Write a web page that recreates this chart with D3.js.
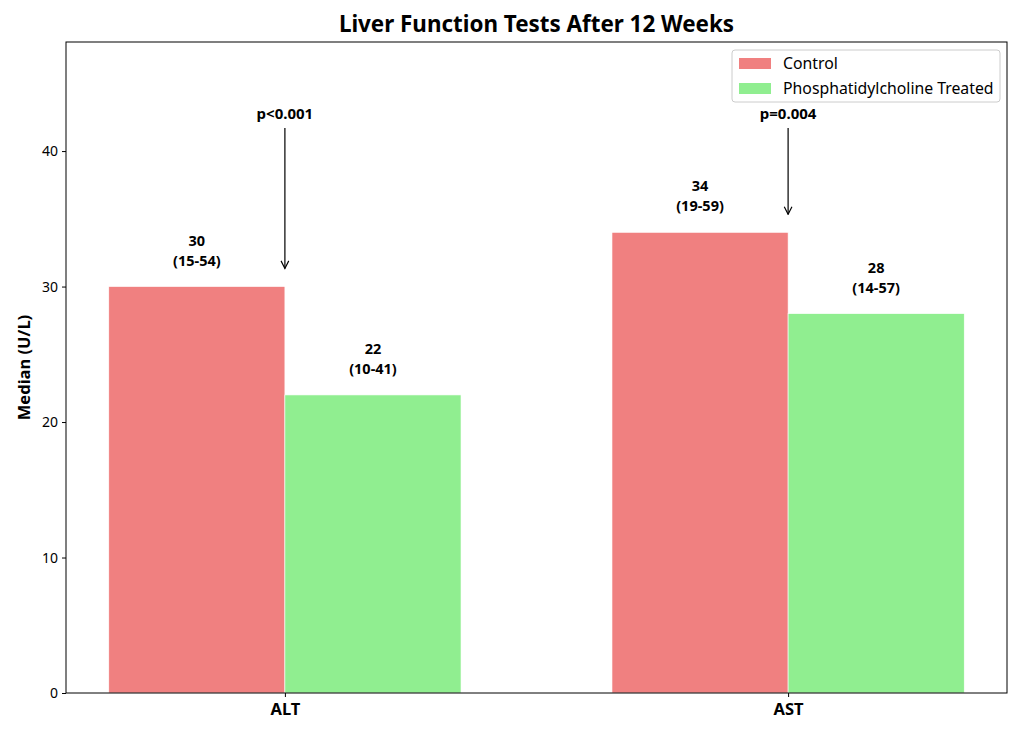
<!DOCTYPE html>
<html>
<head>
<meta charset="utf-8">
<script src="https://cdn.jsdelivr.net/npm/d3@7"></script>
<style>
  body { margin: 0; background: #fff; }
  text { font-family: "Noto Sans", "Open Sans", sans-serif; }
</style>
</head>
<body>
<div id="chart"></div>
<script>
const tests = ["ALT", "AST"];
const groups = ["Control", "Phosphatidylcholine Treated"];
const controlMedian = [30, 34];
const treatedMedian = [22, 28];
const controlRange = ["(15-54)", "(19-59)"];
const treatedRange = ["(10-41)", "(14-57)"];
const pValues = ["p<0.001", "p=0.004"];
const yTicks = [0, 10, 20, 30, 40];

const W = 1024, H = 737;
const margin = { top: 42, right: 17, bottom: 44, left: 66 };
const colors = ["#F08080", "#90EE90"];
const barW = 0.35;

const svg = d3.select("#chart").append("svg")
    .attr("width", W)
    .attr("height", H);

const x = d3.scaleLinear()
    .domain([-0.435, 1.435])
    .range([margin.left, W - margin.right]);

const y = d3.scaleLinear()
    .domain([0, 48.05])
    .range([H - margin.bottom, margin.top]);

const series = [controlMedian, treatedMedian];
const ranges = [controlRange, treatedRange];

// bars
series.forEach((vals, s) => {
    svg.append("g")
        .selectAll("rect")
        .data(vals)
        .enter()
        .append("rect")
        .attr("x", (d, i) => x(i + (s === 0 ? -barW : 0)))
        .attr("y", (d) => y(d))
        .attr("width", x(barW) - x(0))
        .attr("height", (d) => y(0) - y(d))
        .attr("fill", colors[s])
        .attr("stroke", "#fff")
        .attr("stroke-width", 0.6);

    // value labels, two lines as separate texts
    const cx = (i) => x(i + (s === 0 ? -barW / 2 : barW / 2));
    const lab = svg.append("g");
    lab.selectAll("text.v")
        .data(vals)
        .enter()
        .append("text")
        .attr("class", "v")
        .attr("x", (d, i) => cx(i))
        .attr("y", (d) => y(d) - 41)
        .attr("text-anchor", "middle")
        .style("font-size", "14.5px")
        .style("font-weight", "bold")
        .text((d) => d);
    lab.selectAll("text.r")
        .data(vals)
        .enter()
        .append("text")
        .attr("class", "r")
        .attr("x", (d, i) => cx(i))
        .attr("y", (d) => y(d) - 21)
        .attr("text-anchor", "middle")
        .style("font-size", "14.5px")
        .style("font-weight", "bold")
        .text((d, i) => ranges[s][i]);
});

// p-value arrows
svg.append("defs").append("marker")
    .attr("id", "arrow")
    .attr("viewBox", "0 0 10 10")
    .attr("refX", 9)
    .attr("refY", 5)
    .attr("markerWidth", 8)
    .attr("markerHeight", 8)
    .attr("orient", "auto")
    .append("path")
    .attr("d", "M1,1 L9,5 L1,9")
    .attr("fill", "none")
    .attr("stroke", "#000")
    .attr("stroke-width", 1.2);

tests.forEach((t, i) => {
    const top = Math.max(controlMedian[i], treatedMedian[i]);
    svg.append("line")
        .attr("x1", x(i))
        .attr("x2", x(i))
        .attr("y1", y(41.7))
        .attr("y2", y(top) - 18)
        .attr("stroke", "#000")
        .attr("stroke-width", 1.2)
        .attr("marker-end", "url(#arrow)");
    svg.append("text")
        .attr("x", x(i))
        .attr("y", y(42.4))
        .attr("text-anchor", "middle")
        .style("font-size", "15px")
        .style("font-weight", "bold")
        .text(pValues[i]);
});

// axes
const yAxis = d3.axisLeft(y).tickValues(yTicks).tickSize(4).tickPadding(4);
const gy = svg.append("g")
    .attr("transform", `translate(${margin.left},0)`)
    .call(yAxis);
gy.select(".domain").remove();
gy.selectAll("text").style("font-size", "14px").attr("fill", "#000");

const xAxis = d3.axisBottom(x).tickValues([0, 1]).tickFormat((d) => tests[d]).tickSize(4).tickPadding(6);
const gx = svg.append("g")
    .attr("transform", `translate(0,${H - margin.bottom})`)
    .call(xAxis);
gx.select(".domain").remove();
gx.selectAll("text").style("font-size", "16.5px").style("font-weight", "bold").attr("fill", "#000");

// frame
svg.append("rect")
    .attr("x", margin.left)
    .attr("y", margin.top)
    .attr("width", W - margin.left - margin.right)
    .attr("height", H - margin.top - margin.bottom)
    .attr("fill", "none")
    .attr("stroke", "#000")
    .attr("stroke-width", 1);

// title
svg.append("text")
    .attr("x", (margin.left + W - margin.right) / 2)
    .attr("y", 32)
    .attr("text-anchor", "middle")
    .style("font-size", "22.4px")
    .style("font-weight", "bold")
    .text("Liver Function Tests After 12 Weeks");

// y label
svg.append("text")
    .attr("transform", `translate(30,${(margin.top + H - margin.bottom) / 2}) rotate(-90)`)
    .attr("text-anchor", "middle")
    .style("font-size", "16.5px")
    .style("font-weight", "bold")
    .text("Median (U/L)");

// legend
const lg = svg.append("g").attr("transform", "translate(732,50)");
lg.append("rect")
    .attr("width", 268)
    .attr("height", 52)
    .attr("rx", 3)
    .attr("fill", "#fff")
    .attr("fill-opacity", 0.8)
    .attr("stroke", "#ccc");
groups.forEach((g, i) => {
    lg.append("rect")
        .attr("x", 7)
        .attr("y", 8 + i * 25)
        .attr("width", 32)
        .attr("height", 11)
        .attr("fill", colors[i]);
    lg.append("text")
        .attr("x", 51)
        .attr("y", 19 + i * 25)
        .style("font-size", "15.8px")
        .text(g);
});
</script>
</body>
</html>
